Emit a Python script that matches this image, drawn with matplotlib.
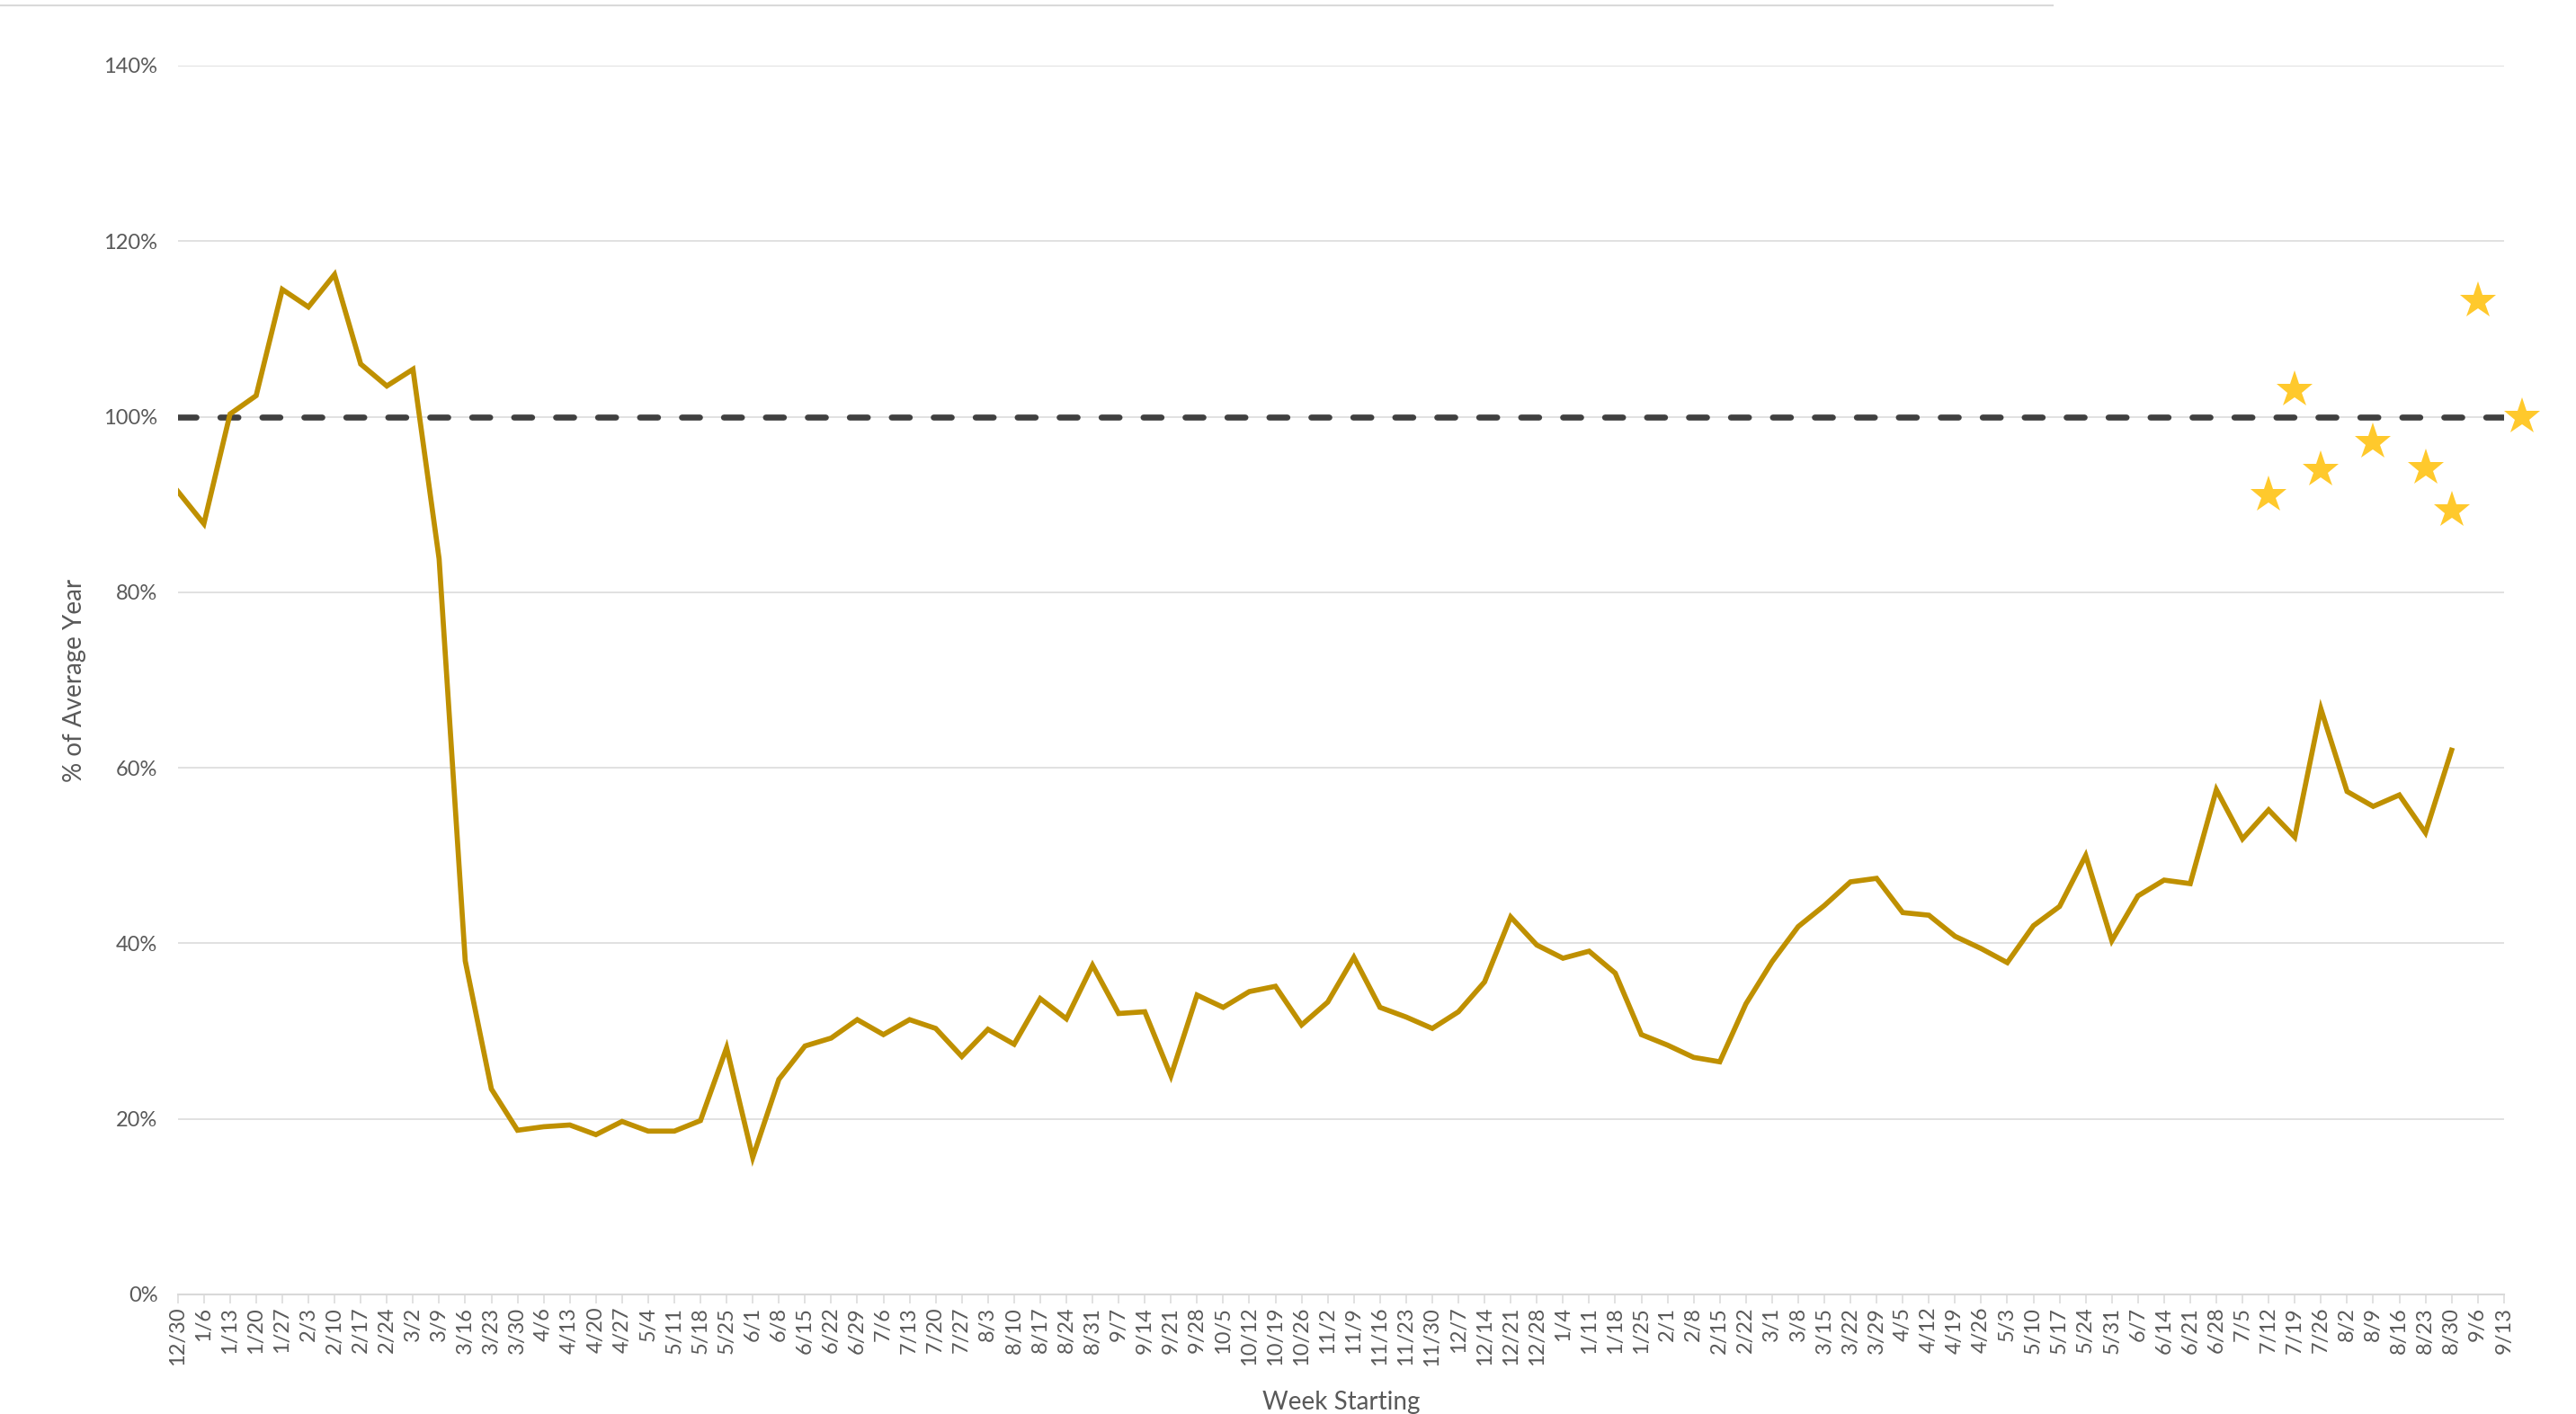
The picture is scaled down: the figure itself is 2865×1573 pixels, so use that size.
"""Weekly activity as % of an average year, with star markers for recent weeks."""

import numpy as np
import matplotlib
matplotlib.use("Agg")
import matplotlib.pyplot as plt
from matplotlib.lines import Line2D

plt.rcParams['font.family'] = ['Lato', 'DejaVu Sans']

weeks = ['12/30', '1/6', '1/13', '1/20', '1/27', '2/3', '2/10', '2/17', '2/24', '3/2',
         '3/9', '3/16', '3/23', '3/30', '4/6', '4/13', '4/20', '4/27', '5/4', '5/11',
         '5/18', '5/25', '6/1', '6/8', '6/15', '6/22', '6/29', '7/6', '7/13', '7/20',
         '7/27', '8/3', '8/10', '8/17', '8/24', '8/31', '9/7', '9/14', '9/21', '9/28',
         '10/5', '10/12', '10/19', '10/26', '11/2', '11/9', '11/16', '11/23', '11/30', '12/7',
         '12/14', '12/21', '12/28', '1/4', '1/11', '1/18', '1/25', '2/1', '2/8', '2/15',
         '2/22', '3/1', '3/8', '3/15', '3/22', '3/29', '4/5', '4/12', '4/19', '4/26',
         '5/3', '5/10', '5/17', '5/24', '5/31', '6/7', '6/14', '6/21', '6/28', '7/5',
         '7/12', '7/19', '7/26', '8/2', '8/9', '8/16', '8/23', '8/30', '9/6', '9/13']

# % of average year (line stops at 8/30)
pct_avg = [91.5, 87.8, 100.3, 102.4, 114.5, 112.5, 116.2, 106.0, 103.5, 105.4,
           83.8, 38.0, 23.4, 18.7, 19.1, 19.3, 18.2, 19.7, 18.6, 18.6,
           19.8, 28.1, 15.6, 24.5, 28.3, 29.2, 31.3, 29.6, 31.3, 30.3,
           27.1, 30.2, 28.5, 33.7, 31.4, 37.5, 32.0, 32.2, 24.9, 34.1,
           32.7, 34.5, 35.1, 30.7, 33.3, 38.4, 32.7, 31.6, 30.3, 32.2,
           35.6, 43.0, 39.8, 38.3, 39.1, 36.6, 29.6, 28.4, 27.0, 26.5,
           33.1, 37.9, 41.9, 44.3, 47.0, 47.4, 43.5, 43.2, 40.8, 39.4,
           37.8, 42.0, 44.2, 50.0, 40.3, 45.4, 47.2, 46.8, 57.5, 51.9,
           55.2, 52.1, 66.7, 57.3, 55.6, 56.9, 52.6, 62.0]

# star markers (x position in weeks, value %)
star_x = [80, 81, 82, 84, 86, 87, 88, 89.7]
star_y = [91.0, 103.0, 93.9, 97.1, 94.1, 89.3, 113.2, 100.0]

baseline = 100

fig = plt.figure(figsize=(28.65, 15.73), dpi=100)
ax = fig.add_axes([0.069, 0.0846, 0.903, 0.869])

x = np.arange(len(weeks))
ax.plot(x[:len(pct_avg)], pct_avg, color='#BF9000', lw=4.1, solid_joinstyle='miter', zorder=3)
ax.axhline(baseline, color='#404040', lw=4.8, linestyle=(0, (3, 4)),
           dash_capstyle='round', zorder=2)
ax.plot(star_x, star_y, linestyle='none', marker='*', markersize=31,
        color='#FFC92C', markeredgewidth=0, clip_on=False, zorder=4)

ax.set_xlim(0, len(weeks) - 1)
ax.set_ylim(0, 140)
ax.set_yticks(np.arange(0, 141, 20))
ax.set_yticklabels([f'{v}%' for v in range(0, 141, 20)])
ax.set_xticks(x)
ax.set_xticklabels(weeks, rotation=90)

ax.grid(axis='y', color='#D9D9D9', lw=1.1, zorder=0)
ax.set_axisbelow(True)
for side in ['left', 'right', 'top']:
    ax.spines[side].set_visible(False)
ax.spines['bottom'].set_color('#D9D9D9')
ax.spines['bottom'].set_linewidth(1.5)

ax.tick_params(axis='y', length=0, pad=16, labelsize=17, labelcolor='#595959')
ax.tick_params(axis='x', length=7, width=1.1, color='#D9D9D9', pad=3,
               labelsize=17, labelcolor='#595959')

ax.set_xlabel('Week Starting', fontsize=20, color='#595959', labelpad=20)
ax.set_ylabel('% of Average Year', fontsize=20, color='#595959', labelpad=14)

# thin rule along the top edge
fig.add_artist(Line2D([0, 0.797], [0.9965, 0.9965], color='#D9D9D9', lw=1.5))

fig.savefig('out.png', dpi=100, facecolor='white')
